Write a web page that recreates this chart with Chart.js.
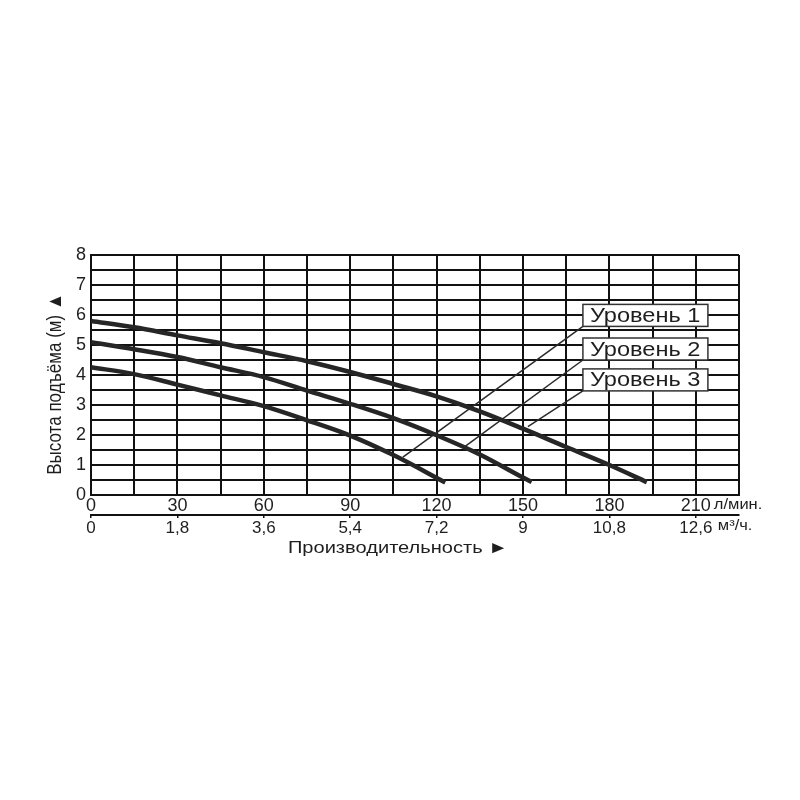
<!DOCTYPE html>
<html>
<head>
<meta charset="utf-8">
<script src="https://cdn.jsdelivr.net/npm/chart.js@4.4.1/dist/chart.umd.min.js"></script>
<style>
    html, body { margin: 0; padding: 0; background: #ffffff; }
    #wrap { width: 800px; height: 800px; }
</style>
</head>
<body>
<div id="wrap"><canvas id="pump-chart" width="800" height="800"></canvas></div>
<script>
// flow in l/min, head in m
const level3Flow = [0, 15, 30, 45, 60, 75, 90, 105, 120, 135, 150, 165, 180, 193];
const level3Head = [5.8, 5.59, 5.32, 5.06, 4.76, 4.46, 4.1, 3.7, 3.29, 2.79, 2.21, 1.6, 1.0, 0.43];

const level2Flow = [0, 15, 30, 45, 60, 75, 90, 105, 120, 135, 150, 153];
const level2Head = [5.09, 4.86, 4.6, 4.26, 3.93, 3.48, 3.04, 2.56, 1.99, 1.35, 0.58, 0.43];

const level1Flow = [0, 15, 30, 45, 60, 75, 90, 105, 123];
const level1Head = [4.26, 4.03, 3.68, 3.32, 2.96, 2.49, 1.98, 1.33, 0.42];

const flowTicksLpm = [0, 30, 60, 90, 120, 150, 180, 210];
const flowTicksM3h = ["0", "1,8", "3,6", "5,4", "7,2", "9", "10,8", "12,6"];
const headTicks = [0, 1, 2, 3, 4, 5, 6, 7, 8];

const levelNames = ["Уровень 1", "Уровень 2", "Уровень 3"];
// leader lines: from label box corner to the curve
const leaderFlow = [[170.8, 108.3], [170.8, 129.9], [170.8, 151.7]];
const leaderHead = [[5.62, 1.26], [4.5, 1.62], [3.47, 2.28]];

const FONT = "'Liberation Sans', Arial, sans-serif";
const INK = "#1e1e1e";
const STRETCH = 1.18; // the source text is a bit wide

function toPoints(xs, ys) {
    return xs.map((x, i) => ({ x: x, y: ys[i] }));
}

function curve(xs, ys) {
    return {
        data: toPoints(xs, ys),
        borderColor: "#262626",
        borderWidth: 4.5,
        pointRadius: 0,
        tension: 0.4,
        cubicInterpolationMode: "monotone",
        fill: false,
    };
}

const datasets = [
    curve(level3Flow, level3Head),
    curve(level2Flow, level2Head),
    curve(level1Flow, level1Head),
];

for (let i = 0; i < leaderFlow.length; i++) {
    datasets.push({
        data: toPoints(leaderFlow[i], leaderHead[i]),
        borderColor: "#2a2a2a",
        borderWidth: 1.5,
        pointRadius: 0,
        tension: 0,
        fill: false,
    });
}

function wideText(ctx, text, px, py, align) {
    ctx.save();
    ctx.translate(px, py);
    ctx.scale(STRETCH, 1);
    ctx.textAlign = align;
    ctx.fillText(text, 0, 0);
    ctx.restore();
}

const extraText = {
    id: "extraText",
    afterDraw(chart) {
        const ctx = chart.ctx;
        const x = chart.scales.x;
        const y = chart.scales.y;
        const area = chart.chartArea;

        ctx.save();
        ctx.fillStyle = INK;
        ctx.textBaseline = "middle";

        // level label boxes
        for (let i = 0; i < levelNames.length; i++) {
            const left = x.getPixelForValue(leaderFlow[i][0]);
            const bottom = y.getPixelForValue(leaderHead[i][0]);
            const w = 125;
            const h = 22;
            ctx.fillStyle = "#ffffff";
            ctx.fillRect(left, bottom - h, w, h);
            ctx.strokeStyle = "#333333";
            ctx.lineWidth = 1.5;
            ctx.strokeRect(left, bottom - h, w, h);
            ctx.fillStyle = INK;
            ctx.font = "20px " + FONT;
            wideText(ctx, levelNames[i], left + 7, bottom - h / 2 + 1, "left");
        }

        // units after the last tick labels
        ctx.font = "14px " + FONT;
        wideText(ctx, "л/мин.", x.getPixelForValue(210) + 18, area.bottom + 10, "left");
        wideText(ctx, "м³/ч.", x.getPixelForValue(210) + 22, area.bottom + 31, "left");

        // axis titles
        ctx.font = "17px " + FONT;
        wideText(ctx, "Производительность ►", 398, 548, "center");

        ctx.translate(55, 384);
        ctx.scale(STRETCH, 1);
        ctx.rotate(-Math.PI / 2);
        ctx.textAlign = "center";
        ctx.fillText("Высота подъёма (м) ▲", 0, 0);
        ctx.restore();
    },
};

new Chart(document.getElementById("pump-chart"), {
    type: "line",
    data: { datasets: datasets },
    plugins: [extraText],
    options: {
        responsive: false,
        animation: false,
        layout: { padding: { left: 0, top: 255, right: 61, bottom: 261 } },
        plugins: {
            legend: { display: false },
            tooltip: { enabled: false },
        },
        scales: {
            x: {
                type: "linear",
                position: "bottom",
                min: 0,
                max: 225,
                afterFit(scale) { scale.height = 20; },
                ticks: {
                    stepSize: 15,
                    autoSkip: false,
                    maxRotation: 0,
                    padding: 0,
                    color: INK,
                    font: { family: FONT, size: 18 },
                    callback: (v) => (flowTicksLpm.includes(v) ? String(v) : ""),
                },
                grid: { color: "#111111", lineWidth: 2, drawTicks: false },
                border: { color: "#111111", width: 2 },
            },
            x2: {
                type: "linear",
                position: "bottom",
                min: 0,
                max: 225,
                afterFit(scale) { scale.height = 24; },
                afterBuildTicks(scale) {
                    scale.ticks = flowTicksLpm.map((v) => ({ value: v }));
                },
                ticks: {
                    autoSkip: false,
                    maxRotation: 0,
                    padding: 0,
                    color: INK,
                    font: { family: FONT, size: 17 },
                    callback: (v) => flowTicksM3h[flowTicksLpm.indexOf(v)] ?? "",
                },
                grid: { drawOnChartArea: false, color: "#111111", lineWidth: 1.5, tickLength: 3 },
                border: { color: "#111111", width: 2 },
            },
            y: {
                type: "linear",
                min: 0,
                max: 8,
                afterFit(scale) { scale.width = 91; },
                ticks: {
                    stepSize: 0.5,
                    autoSkip: false,
                    padding: 5,
                    color: INK,
                    font: { family: FONT, size: 18 },
                    callback: (v) => (headTicks.includes(v) ? String(v) : ""),
                },
                grid: { color: "#111111", lineWidth: 2, drawTicks: false },
                border: { color: "#111111", width: 2 },
            },
        },
    },
});
</script>
</body>
</html>
